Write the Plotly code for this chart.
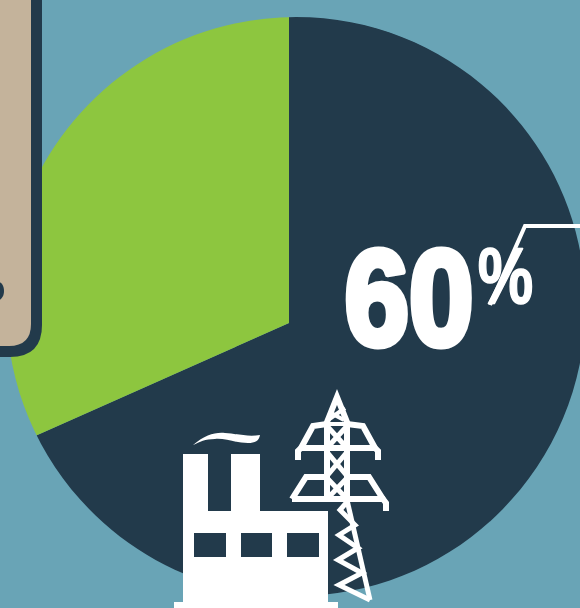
import re
import plotly.graph_objects as go

# Share of generation: the dark slice carries the 60 stated in the headline.
slice_labels = ["Fossil", "Renewable"]
slice_values = [60, 27.8]
slice_colors = ["#223A4B", "#8DC63F"]
headline_number = "60"
headline_unit = "%"

BACKGROUND = "#69A4B6"
DARK = "#223A4B"
TAN = "#C4B39B"
WHITE = "#FFFFFF"

# The canvas is wider than the window so the wedge apex can sit at (289, 323).
FIG_W, FIG_H = 616, 646
OFFSET_X = -19

# Visible rim of the disc, in window pixels.
RIM_X, RIM_Y, RIM_R = 296, 306.6, 289.5


def px(x):
    return (x - OFFSET_X) / FIG_W


def py(y):
    return 1 - y / FIG_H


def to_paper(path):
    """Convert an SVG path written in window pixels to paper fractions."""
    out, is_x = [], True
    for tok in re.findall(r"[A-Za-z]|-?\d+\.?\d*", path):
        if tok.isalpha():
            out.append(tok)
            is_x = True
        else:
            out.append(f"{px(float(tok)) if is_x else py(float(tok)):.5f}")
            is_x = not is_x
    return " ".join(out)


def solid(path, color):
    return dict(type="path", xref="paper", yref="paper", path=to_paper(path),
                fillcolor=color, line=dict(width=0), layer="above")


def stroke(path, width=6, color=WHITE):
    return dict(type="path", xref="paper", yref="paper", path=to_paper(path),
                fillcolor="rgba(0,0,0,0)", line=dict(width=width, color=color), layer="above")


def rim_mask():
    """Background sheet with a round hole that trims the pie to its rim."""
    k = 0.5523 * RIM_R
    x, y, r = RIM_X, RIM_Y, RIM_R
    right, bottom = OFFSET_X + FIG_W, FIG_H
    return solid(
        f"M {OFFSET_X} 0 L {right} 0 L {right} {bottom} L {OFFSET_X} {bottom} Z "
        f"M {x - r} {y} C {x - r} {y - k} {x - k} {y - r} {x} {y - r} "
        f"C {x + k} {y - r} {x + r} {y - k} {x + r} {y} "
        f"C {x + r} {y + k} {x + k} {y + r} {x} {y + r} "
        f"C {x - k} {y + r} {x - r} {y + k} {x - r} {y} Z",
        BACKGROUND,
    )


panel = [
    solid(f"M {OFFSET_X} 0 L 42 0 L 42 325 Q 42 357 10 357 L {OFFSET_X} 357 Z", DARK),
    solid(f"M {OFFSET_X} 0 L 31 0 L 31 324 Q 31 346 9 346 L {OFFSET_X} 346 Z", TAN),
    solid(f"M {OFFSET_X} 291 C -8 275 4 280 4 291 C 4 302 -8 307 {OFFSET_X} 291 Z", DARK),
]

factory = [
    solid("M 183 454 L 208 454 L 208 511 L 231 511 L 231 454 L 260 454 L 260 511 L 328 511 "
          "L 328 602 L 338 602 L 338 608 L 174 608 L 174 602 L 183 602 Z", WHITE),
    solid("M 194 533 L 226 533 L 226 557 L 194 557 Z", DARK),
    solid("M 241 533 L 272 533 L 272 557 L 241 557 Z", DARK),
    solid("M 287 533 L 319 533 L 319 557 L 287 557 Z", DARK),
    solid("M 193 445 C 205 435 215 432 225 433 C 238 434 248 437 260 435 "
          "C 259 441 255 443 248 443 C 235 443 225 438 215 439 C 205 439 200 442 193 445 Z", WHITE),
]

tower = [
    # Mast outline and apex
    stroke("M 327 500 L 327 422 L 337 397 L 347 422 L 347 500"),
    stroke("M 329 412 L 344 420 M 345 408 L 328 420 M 327 424 L 347 424", 4),
    # Upper crossarm
    stroke("M 298 460 L 298 451 L 301 448 L 375 448 L 378 451 L 378 460"),
    stroke("M 301 448 L 313 426 L 327 424 M 375 448 L 363 426 L 347 424"),
    # Lower crossarm
    stroke("M 292 499 L 383 499 L 386 503 L 386 511"),
    stroke("M 292 499 L 306 477 L 327 477 M 383 499 L 369 477 L 347 477"),
    # Lattice inside the mast
    stroke("M 327 426 L 347 448 M 347 426 L 327 448 "
           "M 327 452 L 347 476 M 347 452 L 327 476 "
           "M 327 478 L 347 499 M 347 478 L 327 499", 5),
    # Leg and zigzag bracing below the arms
    stroke("M 347 500 L 370 600", 5),
    stroke("M 347 502 L 340 510 L 355 525 L 339 535 L 358 548 L 338 560 L 362 573 L 339 585 L 370 600", 5),
]

pointer = [stroke("M 490 305 L 525 226 L 580 226", 4)]

fig = go.Figure(
    go.Pie(
        labels=slice_labels,
        values=slice_values,
        marker=dict(colors=slice_colors, line=dict(width=0)),
        sort=False,
        direction="clockwise",
        rotation=0,
        textinfo="none",
        hoverinfo="label+value",
        domain=dict(x=[0, 1], y=[0, 1]),
    )
)

fig.update_layout(
    width=FIG_W,
    height=FIG_H,
    margin=dict(l=0, r=0, t=0, b=0),
    paper_bgcolor=BACKGROUND,
    plot_bgcolor=BACKGROUND,
    showlegend=False,
    shapes=[rim_mask()] + panel + factory + tower + pointer,
    annotations=[
        dict(xref="paper", yref="paper", x=px(409), y=py(298), xanchor="center", yanchor="middle",
             text=f"<b>{headline_number}</b>", showarrow=False,
             font=dict(family="Liberation Sans", size=135, color=WHITE)),
        dict(xref="paper", yref="paper", x=px(505), y=py(275), xanchor="center", yanchor="middle",
             text=f"<b>{headline_unit}</b>", showarrow=False,
             font=dict(family="Liberation Sans", size=80, color=WHITE)),
    ],
)

# Pin the canvas to the window and give the headline its tall, condensed, heavy cut.
place_canvas = f"""
document.documentElement.style.overflow = 'hidden';
document.body.style.overflow = 'hidden';
document.body.style.margin = '0';
var gd = document.querySelector('.plotly-graph-div');
gd.style.position = 'fixed';
gd.style.left = '{OFFSET_X}px';
gd.style.top = '0px';
var cuts = [[0.86, 7], [0.78, 1.5]];
gd.querySelectorAll('.annotation-text').forEach(function (t, i) {{
  t.style.transformBox = 'fill-box';
  t.style.transformOrigin = 'center';
  t.style.transform = 'scaleX(' + cuts[i][0] + ')';
  t.style.stroke = '{WHITE}';
  t.style.strokeWidth = cuts[i][1] + 'px';
  t.style.strokeLinejoin = 'round';
}});
"""

fig.write_html("out.html", post_script=place_canvas, config=dict(displayModeBar=False))
